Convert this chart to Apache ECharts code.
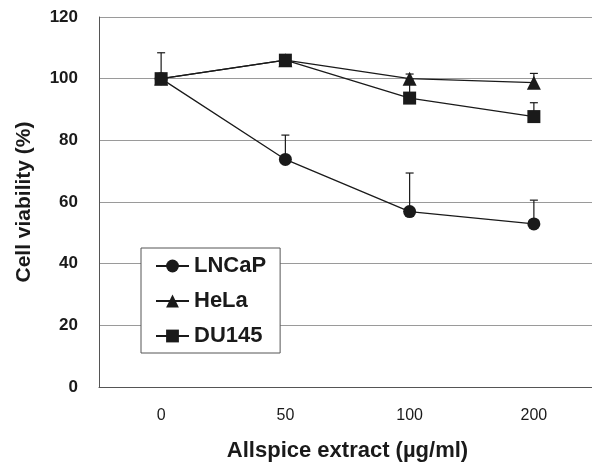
<!DOCTYPE html>
<html>
<head>
<meta charset="utf-8">
<script src="https://cdn.jsdelivr.net/npm/echarts@6/dist/echarts.min.js"></script>
<style>
  html, body { margin: 0; padding: 0; background: #fff; }
  #chart { width: 592px; height: 468px; }
</style>
</head>
<body>
<div id="chart"></div>
<script>
const doses = ['0', '50', '100', '200']
const lncap = [100, 73.8, 56.9, 52.9]
const hela = [100, 106, 100, 98.7]
const du145 = [100, 106, 93.7, 87.7]
// upper error (SD)
const lncapSd = [8.4, 7.9, 12.5, 7.7]
const helaSd = [0, 0, 1.5, 3.0]
const du145Sd = [0, 0, 6.2, 4.5]

const font = "'Liberation Sans', Arial, sans-serif"
const ink = '#1a1a1a'

const errData = (vals, sds) =>
  vals.map((v, i) => [i, v, v + sds[i]]).filter((d, i) => sds[i] > 0)

const renderErr = (params, api) => {
  const lo = api.coord([api.value(0), api.value(1)])
  const hi = api.coord([api.value(0), api.value(2)])
  const style = { stroke: ink, lineWidth: 1.2 }
  return {
    type: 'group',
    children: [
      { type: 'line', shape: { x1: lo[0], y1: lo[1], x2: hi[0], y2: hi[1] }, style },
      { type: 'line', shape: { x1: hi[0] - 4, y1: hi[1], x2: hi[0] + 4, y2: hi[1] }, style },
    ],
  }
}

const lineSeries = (name, data, symbol, size) => ({
  name,
  type: 'line',
  data,
  symbol,
  symbolSize: size,
  z: 3,
  lineStyle: { color: ink, width: 1.3 },
  itemStyle: { color: ink },
})

const errSeries = (vals, sds) => ({
  type: 'custom',
  renderItem: renderErr,
  data: errData(vals, sds),
  z: 2,
  silent: true,
})

const chart = echarts.init(document.getElementById('chart'))
chart.setOption({
  animation: false,
  textStyle: { fontFamily: font },
  grid: { left: 99, width: 497, top: 17, bottom: 81, outerBoundsMode: 'none', containLabel: false },
  legend: {
    orient: 'vertical',
    left: 141,
    top: 248,
    padding: [7, 14, 6, 14],
    itemGap: 13,
    itemWidth: 33,
    itemHeight: 16,
    backgroundColor: '#fff',
    borderColor: '#555',
    borderWidth: 1,
    borderRadius: 0,
    textStyle: { fontFamily: font, fontSize: 22, fontWeight: 'bold', color: ink },
    data: ['LNCaP', 'HeLa', 'DU145'],
  },
  xAxis: {
    type: 'category',
    data: doses,
    boundaryGap: true,
    name: 'Allspice extract (µg/ml)',
    nameLocation: 'middle',
    nameGap: 53,
    nameTextStyle: { fontFamily: font, fontSize: 22, fontWeight: 'bold', color: ink },
    axisLine: { lineStyle: { color: '#555', width: 1 } },
    axisTick: { inside: true, length: 4, lineStyle: { color: '#555' } },
    axisLabel: { margin: 21, fontFamily: font, fontSize: 16, color: ink },
  },
  yAxis: {
    type: 'value',
    min: 0,
    max: 120,
    interval: 20,
    name: 'Cell viability (%)',
    nameLocation: 'middle',
    nameGap: 64,
    nameTextStyle: { fontFamily: font, fontSize: 21, fontWeight: 'bold', color: ink },
    axisLine: { show: true, lineStyle: { color: '#555', width: 1 } },
    axisTick: { show: false },
    axisLabel: { margin: 21, fontFamily: font, fontSize: 17, fontWeight: 'bold', color: ink },
    splitLine: { lineStyle: { color: '#9a9a9a', width: 1 } },
  },
  series: [
    errSeries(lncap, lncapSd),
    errSeries(hela, helaSd),
    errSeries(du145, du145Sd),
    lineSeries('LNCaP', lncap, 'circle', 13),
    lineSeries('HeLa', hela, 'triangle', 14),
    lineSeries('DU145', du145, 'rect', 13),
  ],
})
</script>
</body>
</html>
